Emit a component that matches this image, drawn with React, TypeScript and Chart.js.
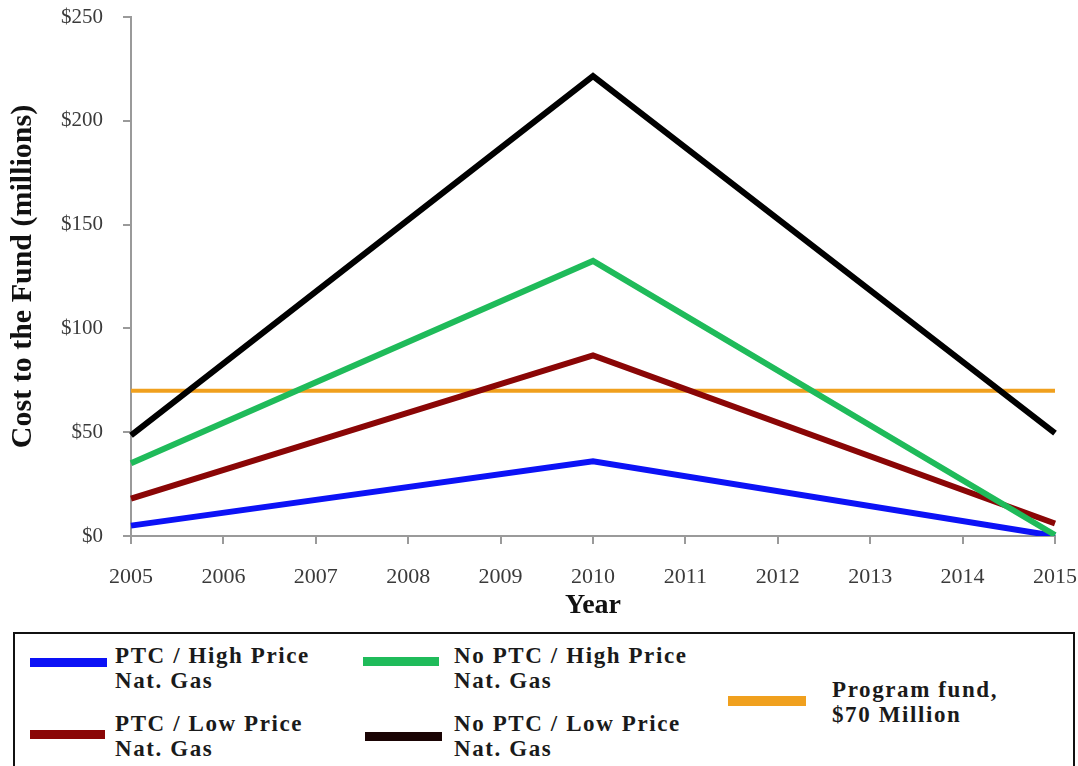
import React, { useEffect, useRef } from "react";
import { Chart, registerables } from "chart.js";

Chart.register(...registerables);

const years = ["2005", "2006", "2007", "2008", "2009", "2010", "2011", "2012", "2013", "2014", "2015"];
const ptcHighPrice = [5, null, null, null, null, 36, null, null, null, null, 0];
const noPtcHighPrice = [35, null, null, null, null, 132.5, null, null, null, null, 0.5];
const ptcLowPrice = [18, null, null, null, null, 87, null, null, null, null, 6];
const noPtcLowPrice = [48.5, null, null, null, null, 221.5, null, null, null, null, 49.5];
const programFund = [70, 70, 70, 70, 70, 70, 70, 70, 70, 70, 70];
const yTicks = [0, 50, 100, 150, 200, 250];

const SERIF = "'Liberation Serif', 'Times New Roman', serif";

const legendItems = [
  { label: ["PTC / High Price", "Nat. Gas"], color: "#0c12f6", sx: 30, sy: 658, sw: 77, sh: 9, tx: 115, ty: 643 },
  { label: ["No PTC / High Price", "Nat. Gas"], color: "#1fbb5a", sx: 363, sy: 657, sw: 76, sh: 9, tx: 454, ty: 643 },
  { label: ["PTC / Low Price", "Nat. Gas"], color: "#8a0606", sx: 30, sy: 730, sw: 75, sh: 9, tx: 115, ty: 711 },
  { label: ["No PTC / Low Price", "Nat. Gas"], color: "#1a0404", sx: 365, sy: 732, sw: 77, sh: 9, tx: 454, ty: 711 },
  { label: ["Program fund,", "$70 Million"], color: "#f0a01e", sx: 728, sy: 696, sw: 78, sh: 10, tx: 832, ty: 677 },
];

export default function App() {
  const ref = useRef<HTMLCanvasElement | null>(null);

  useEffect(() => {
    if (!ref.current) return;
    const mk = (label: string, data: (number | null)[], color: string, width: number, order: number) => ({
      label,
      data,
      borderColor: color,
      backgroundColor: color,
      borderWidth: width,
      pointRadius: 0,
      pointHoverRadius: 0,
      tension: 0,
      spanGaps: true,
      fill: false,
      order,
    });
    const chart = new Chart(ref.current, {
      type: "line",
      data: {
        labels: years,
        datasets: [
          mk("PTC / High Price Nat. Gas", ptcHighPrice, "#0c12f6", 6, 3),
          mk("PTC / Low Price Nat. Gas", ptcLowPrice, "#8a0606", 6, 2),
          mk("No PTC / High Price Nat. Gas", noPtcHighPrice, "#1fbb5a", 6, 1),
          mk("No PTC / Low Price Nat. Gas", noPtcLowPrice, "#000000", 6, 0),
          mk("Program fund, $70 Million", programFund, "#f0a01e", 4, 4),
        ],
      },
      options: {
        responsive: false,
        maintainAspectRatio: false,
        animation: false,
        devicePixelRatio: 1,
        layout: { padding: { top: 17, right: 23, left: 0, bottom: 0 } },
        plugins: { legend: { display: false }, tooltip: { enabled: false } },
        scales: {
          x: {
            type: "category",
            offset: false,
            border: { display: true, color: "#9a9a9a", width: 2 },
            grid: { display: true, drawOnChartArea: false, drawTicks: true, tickLength: 8, color: "#9a9a9a", lineWidth: 2 },
            ticks: { color: "#3a3a3a", padding: 20, maxRotation: 0, autoSkip: false, font: { family: SERIF, size: 22 } },
            title: { display: true, text: "Year", color: "#111", font: { family: SERIF, size: 28, weight: "bold" }, padding: { top: 0, bottom: 7 } },
            afterFit: (s: any) => { s.height = 94; s.paddingLeft = 0; s.paddingRight = 0; s.paddingTop = 0; s.paddingBottom = 0; },
          },
          y: {
            min: 0,
            max: 250,
            border: { display: true, color: "#9a9a9a", width: 2 },
            grid: { display: true, drawOnChartArea: false, drawTicks: true, tickLength: 8, color: "#9a9a9a", lineWidth: 2 },
            afterBuildTicks: (s: any) => { s.ticks = yTicks.map((v) => ({ value: v })); },
            ticks: { color: "#3a3a3a", padding: 20, font: { family: SERIF, size: 21 }, callback: (v: any) => "$" + v },
            title: { display: true, text: "Cost to the Fund (millions)", color: "#111", font: { family: SERIF, size: 30, weight: "bold" }, padding: { top: 5, bottom: 0 } },
            afterFit: (s: any) => { s.width = 131; s.paddingLeft = 0; s.paddingRight = 0; s.paddingTop = 0; s.paddingBottom = 0; },
          },
        },
      },
    });
    return () => chart.destroy();
  }, []);

  return (
    <div style={{ position: "absolute", left: 0, top: 0, width: 1078, height: 766, background: "#fff", overflow: "hidden" }}>
      <canvas ref={ref} width={1078} height={630} style={{ position: "absolute", left: 0, top: 0, width: 1078, height: 630, display: "block" }} />
      <div style={{ position: "absolute", left: 13, top: 632, width: 1062, height: 134, border: "2.5px solid #111", borderBottomWidth: 0, boxSizing: "border-box" }} />
      {legendItems.map((it, i) => (
        <React.Fragment key={i}>
          <div style={{ position: "absolute", left: it.sx, top: it.sy, width: it.sw, height: it.sh, background: it.color }} />
          <div style={{ position: "absolute", left: it.tx, top: it.ty, fontFamily: SERIF, fontWeight: "bold", fontSize: 23, lineHeight: "25px", letterSpacing: "1.6px", color: "#1a1a1a", whiteSpace: "nowrap" }}>
            {it.label[0]}
            <br />
            {it.label[1]}
          </div>
        </React.Fragment>
      ))}
    </div>
  );
}
